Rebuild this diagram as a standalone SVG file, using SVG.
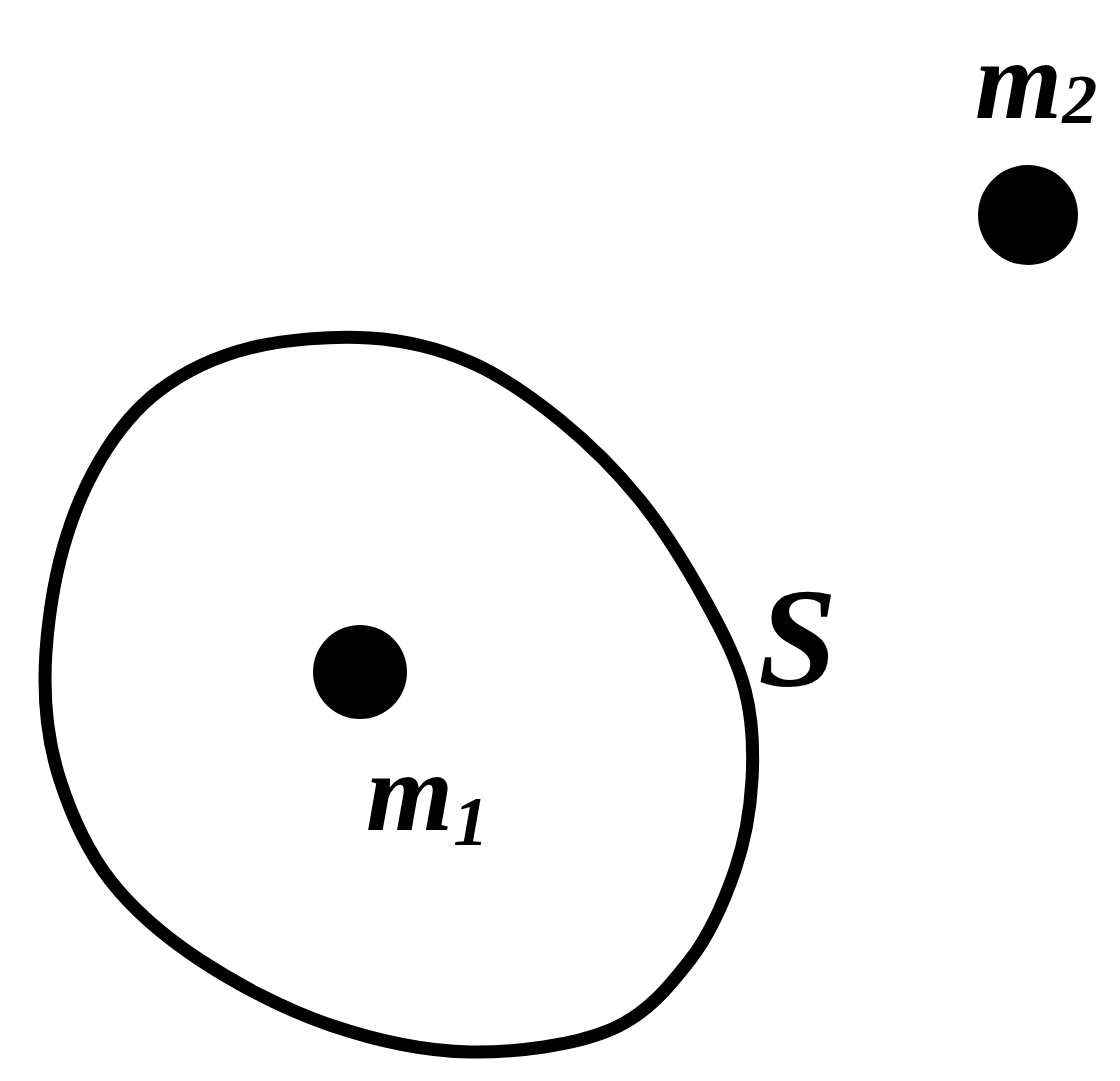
<svg xmlns="http://www.w3.org/2000/svg" width="1120" height="1081" viewBox="0 0 1120 1081">
<style>
.lbl{font-family:"Liberation Serif",serif;font-style:italic;font-weight:bold;fill:#000}
.dot{fill:#000}
</style>
<rect width="1120" height="1081" fill="#fff"/>
<g id="surface-S">
<path d="M370,338 C406.7,340.3 438.3,348.3 470,362 C501.7,375.7 531.7,397 560,420 C588.3,443 615.8,470 640,500 C664.2,530 687.5,568.3 705,600 C722.5,631.7 737.2,660 745,690 C752.8,720 753.7,750 752,780 C750.3,810 745.3,840 735,870 C724.7,900 710.8,933.3 690,960 C669.2,986.7 646.7,1014.7 610,1030 C573.3,1045.3 516.7,1052.8 470,1052 C423.3,1051.2 375,1040.3 330,1025 C285,1009.7 236.7,984.2 200,960 C163.3,935.8 133.3,910 110,880 C86.7,850 70.8,813.3 60,780 C49.2,746.7 45,716.7 45,680 C45,643.3 50.8,596.7 60,560 C69.2,523.3 83.3,488.3 100,460 C116.7,431.7 135,408.7 160,390 C185,371.3 215,356.7 250,348 C285,339.3 333.3,335.7 370,338 Z" fill="none" stroke="#000" stroke-width="13"/>
<text class="lbl" x="758" y="686" font-size="142">S</text>
</g>
<g id="mass-m1">
<circle class="dot" cx="360" cy="672" r="47"/>
<text class="lbl" x="366" y="830" font-size="112">m<tspan font-size="70" dy="15">1</tspan></text>
</g>
<g id="mass-m2">
<circle class="dot" cx="1028" cy="215" r="50"/>
<text class="lbl" x="975" y="118" font-size="112">m<tspan font-size="70" dy="5">2</tspan></text>
</g>
<g id="connectors"/>
</svg>
